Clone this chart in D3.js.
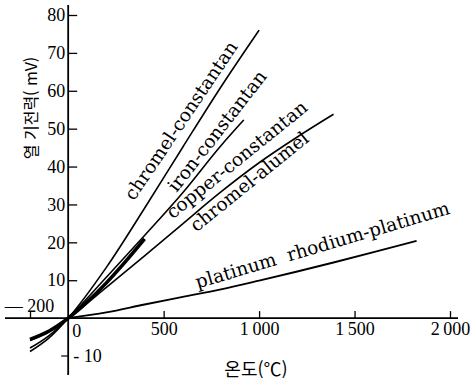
<!DOCTYPE html>
<html lang="ko">
<head>
    <meta charset="UTF-8">
    <title>열기전력</title>
    <script src="https://d3js.org/d3.v7.min.js"></script>
    <style>
        body { margin: 0; background: #fff; }
        .num { font-family: "Liberation Serif", serif; font-size: 18px; }
        .lbl { font-family: "DejaVu Serif", serif; font-size: 18.5px; }
        .kr { font-family: "Noto Sans CJK KR", sans-serif; }
    </style>
</head>
<body>
    <script>
        // temperature (°C) / emf (mV)
        const chromelConstantan = [[-200, -8.8], [-100, -5.2], [0, 0], [200, 13.4], [400, 29.0], [600, 45.1], [800, 61.0], [1000, 76.0]];
        const ironConstantan = [[-200, -7.9], [-100, -4.6], [0, 0], [200, 10.8], [400, 21.8], [600, 33.1], [800, 45.5], [920, 52.3]];
        const copperConstantan = [[-200, -5.6], [-100, -3.4], [0, 0], [100, 4.3], [200, 9.3], [300, 14.9], [400, 20.9]];
        const chromelAlumel = [[-200, -5.9], [-100, -3.6], [0, 0], [200, 8.1], [400, 16.4], [600, 24.9], [800, 33.3], [1000, 41.0], [1200, 47.8], [1390, 53.8]];
        const platinumRhodium = [[0, 0], [200, 1.5], [400, 3.6], [600, 5.6], [800, 7.6], [1000, 9.9], [1200, 12.3], [1400, 14.8], [1600, 17.4], [1825, 20.4]];

        const xTicks = [-200, 500, 1000, 1500, 2000];
        const yTicks = [10, 20, 30, 40, 50, 60, 70, 80];

        // name, data, stroke width, label anchor [°C, mV], label angle
        const series = [
            { name: "chromel-constantan", data: chromelConstantan, w: 1.6, at: [345, 30.8], angle: 56 },
            { name: "iron-constantan", data: ironConstantan, w: 1.6, at: [568, 33.0], angle: 52 },
            { name: "copper-constantan", data: copperConstantan, w: 3.6, at: [548, 26.0], angle: 39 },
            { name: "chromel-alumel", data: chromelAlumel, w: 1.6, at: [672, 22.6], angle: 39 },
            { name: "platinum  rhodium-platinum", data: platinumRhodium, w: 1.9, at: [678, 7.8], angle: 16.5 }
        ];

        const W = 473, H = 385;
        const svg = d3.select("body").append("svg")
            .attr("width", W)
            .attr("height", H);

        const x = d3.scaleLinear().domain([-200, 2000]).range([30, 450]);
        const y = d3.scaleLinear().domain([-10, 80]).range([356, 15]);

        // axis lines, longer than the tick range
        svg.append("line")
            .attr("x1", 5).attr("x2", 458)
            .attr("y1", y(0)).attr("y2", y(0))
            .attr("stroke", "#000").attr("stroke-width", 1.6);
        svg.append("line")
            .attr("x1", x(0)).attr("x2", x(0))
            .attr("y1", 5).attr("y2", 375)
            .attr("stroke", "#000").attr("stroke-width", 1.8);

        const fmt = d => d >= 1000 ? String(d).slice(0, 1) + "\u2009" + String(d).slice(1) : String(d);

        const gx = svg.append("g")
            .attr("class", "num")
            .attr("transform", `translate(0,${y(0)})`)
            .call(d3.axisBottom(x).tickValues(xTicks).tickSize(-7).tickPadding(4).tickFormat(fmt));
        gx.select(".domain").remove();
        gx.selectAll("text").attr("font-family", null).attr("font-size", null);
        gx.selectAll(".tick line").attr("stroke-width", 1.3);
        // -200 label sits above the axis
        gx.selectAll(".tick").filter(d => d === -200).select("text")
            .attr("y", -6).attr("dy", 0).attr("dx", -1)
            .text("\u2014 200");

        const gy = svg.append("g")
            .attr("class", "num")
            .attr("transform", `translate(${x(0)},0)`)
            .call(d3.axisLeft(y).tickValues(yTicks).tickSize(-9).tickPadding(3));
        gy.select(".domain").remove();
        gy.selectAll("text").attr("font-family", null).attr("font-size", null);
        gy.selectAll(".tick line").attr("stroke-width", 1.3);

        // "0" and "-10" labels on the right of the vertical axis
        svg.append("text").attr("class", "num")
            .attr("x", x(0) + 4).attr("y", y(0) + 19)
            .text("0");
        svg.append("line")
            .attr("x1", x(0) - 7).attr("x2", x(0))
            .attr("y1", y(-10)).attr("y2", y(-10))
            .attr("stroke", "#000").attr("stroke-width", 1.2);
        svg.append("text").attr("class", "num")
            .attr("x", x(0) + 5).attr("y", y(-10) + 6)
            .text("- 10");

        const line = d3.line()
            .x(d => x(d[0]))
            .y(d => y(d[1]))
            .curve(d3.curveMonotoneX);

        svg.selectAll("path.curve")
            .data(series)
            .enter()
            .append("path")
            .attr("class", "curve")
            .attr("d", d => line(d.data))
            .attr("fill", "none")
            .attr("stroke", "#000")
            .attr("stroke-width", d => d.w);

        svg.selectAll("text.lbl")
            .data(series)
            .enter()
            .append("text")
            .attr("class", "lbl")
            .attr("transform", d => `translate(${x(d.at[0])},${y(d.at[1])}) rotate(${-d.angle})`)
            .attr("xml:space", "preserve")
            .style("white-space", "pre")
            .text(d => d.name);

        // axis titles
        svg.append("text").attr("class", "kr")
            .attr("transform", `translate(37,108) rotate(-90)`)
            .attr("text-anchor", "middle")
            .attr("font-size", 16)
            .text("열 기전력( mV)");
        svg.append("text").attr("class", "kr")
            .attr("x", 256).attr("y", 376)
            .attr("text-anchor", "middle")
            .attr("font-size", 18)
            .text("온도(℃)");
    </script>
</body>
</html>
